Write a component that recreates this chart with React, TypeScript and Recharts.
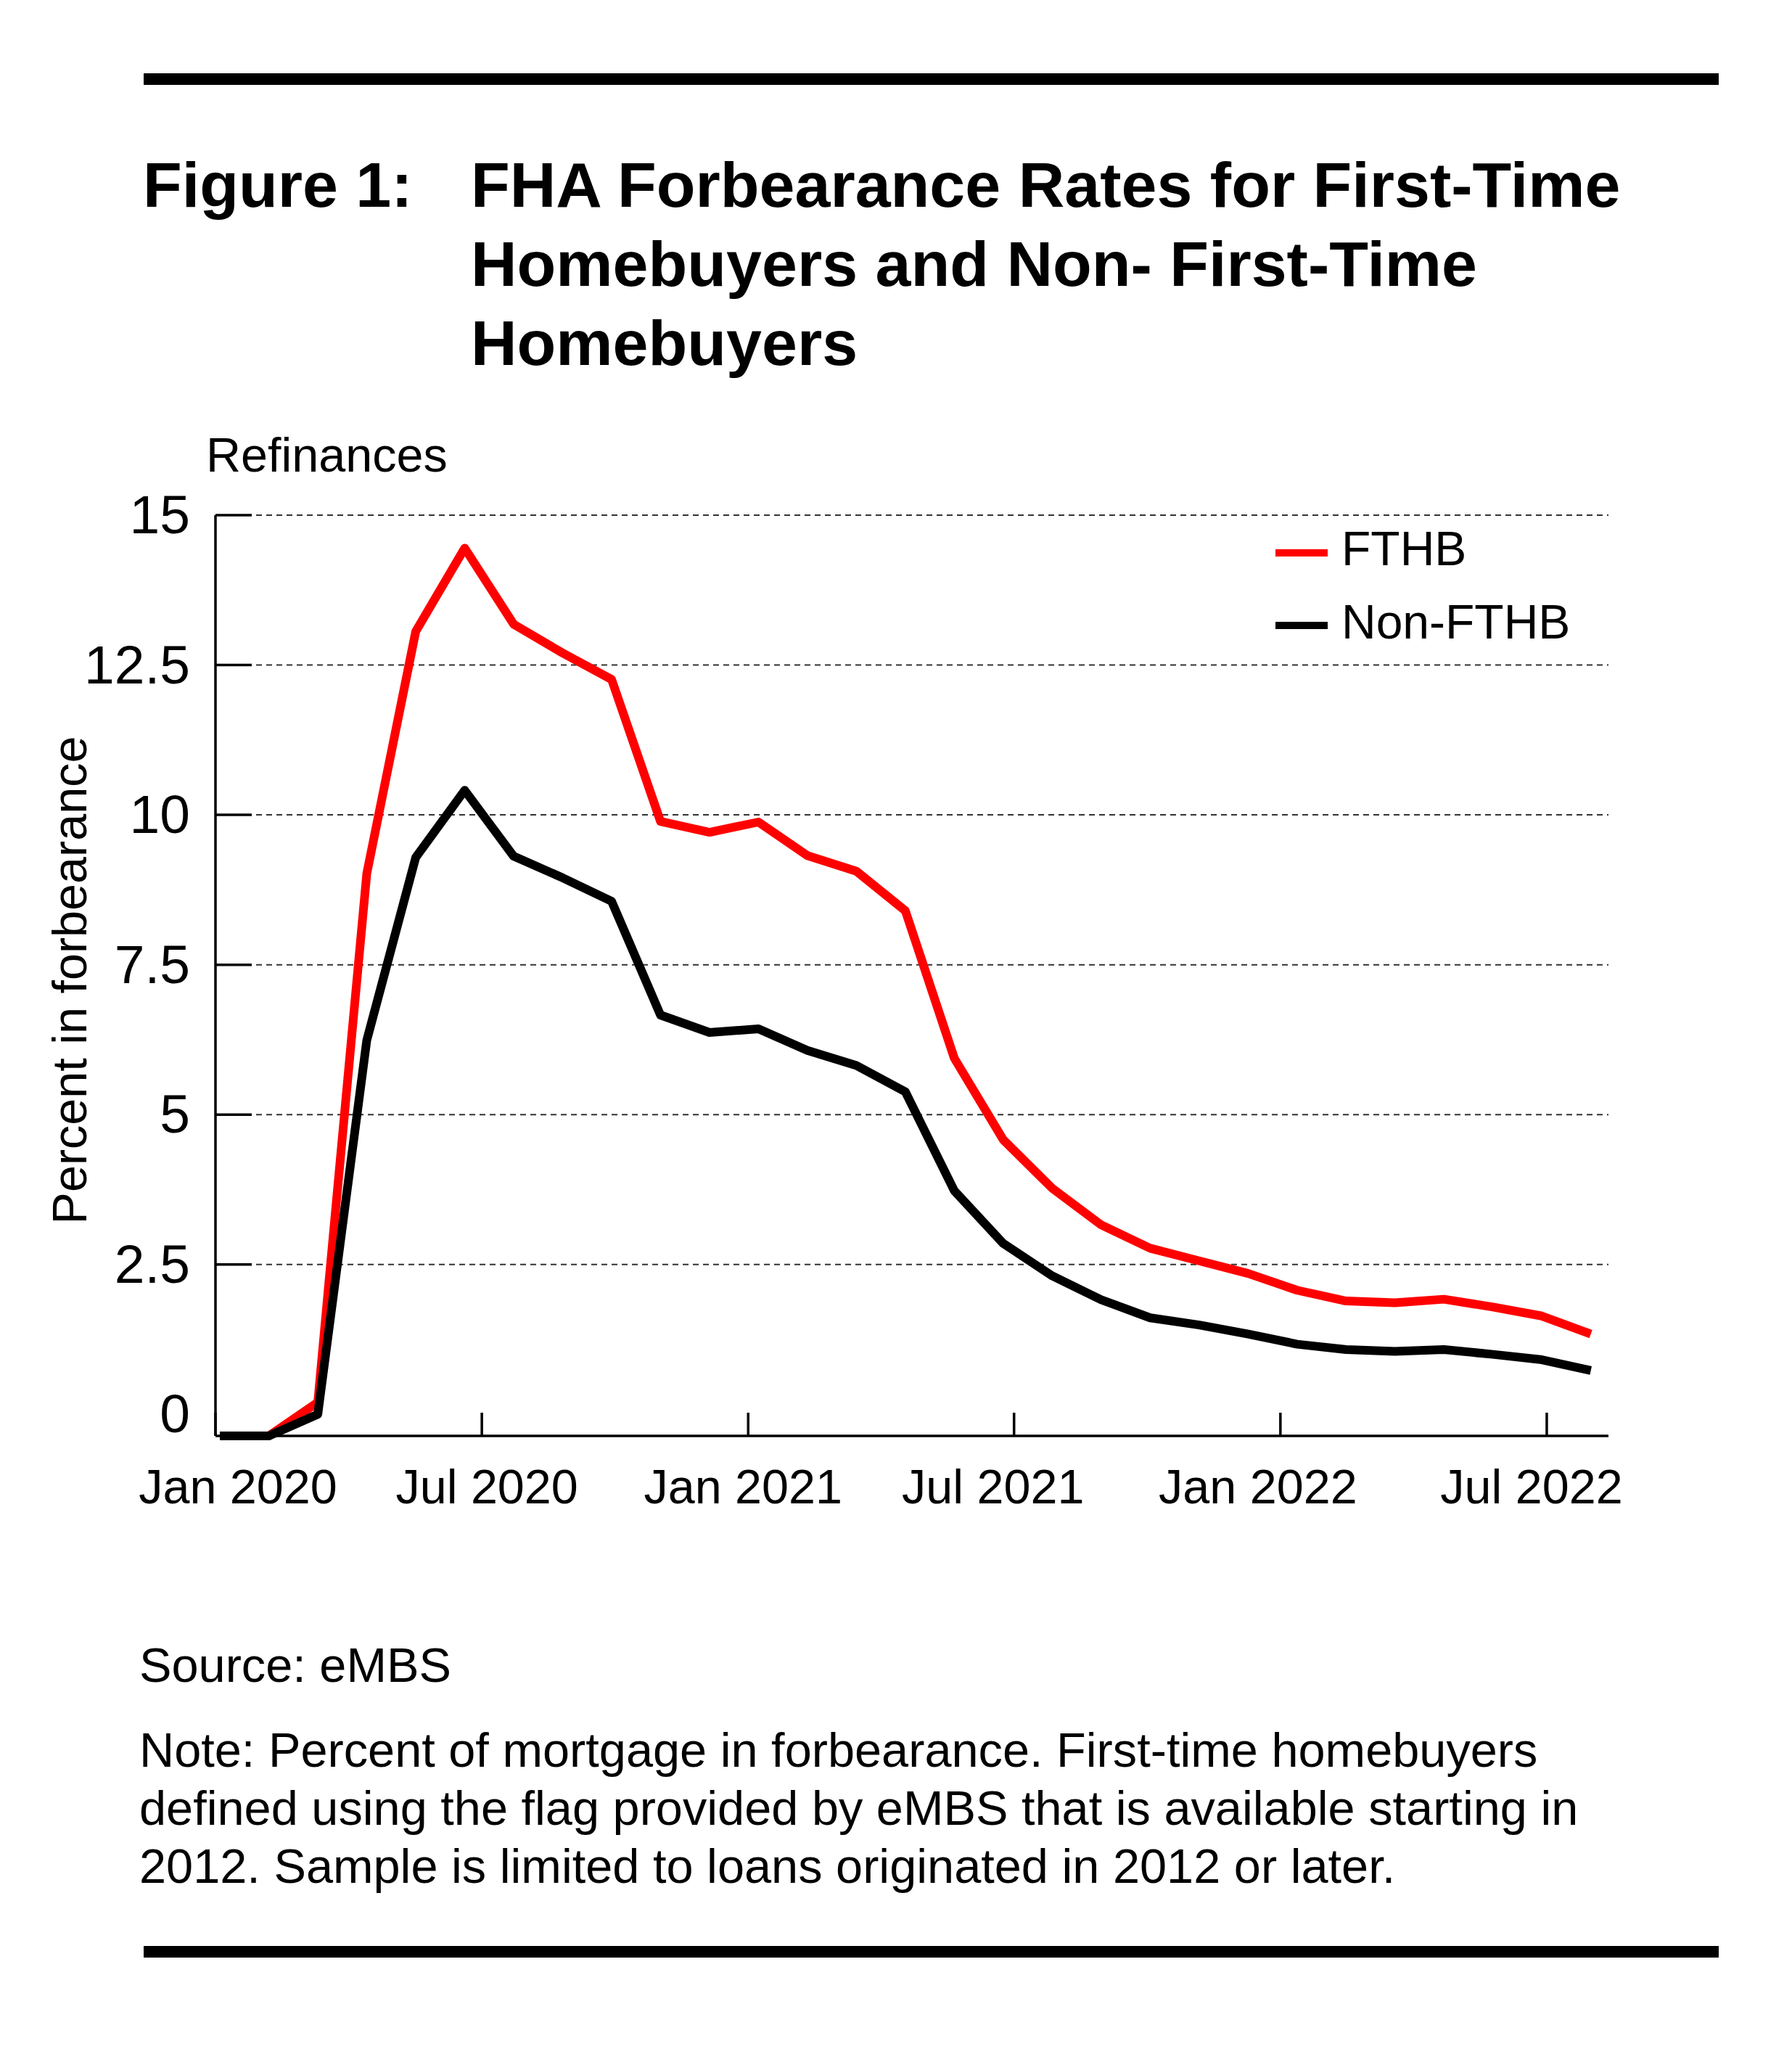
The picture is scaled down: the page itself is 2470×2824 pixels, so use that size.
import React from "react";
import { LineChart, Line, XAxis, YAxis, CartesianGrid, Legend } from "recharts";

const FONT = '"Liberation Sans", Arial, Helvetica, sans-serif';

// observation index (one point per period, first = Jan 2020)
const obs = [
  0, 1, 2, 3, 4, 5, 6, 7, 8, 9, 10, 11, 12, 13, 14, 15, 16, 17, 18, 19, 20,
  21, 22, 23, 24, 25, 26, 27, 28,
];

// percent in forbearance
const fthb = [
  -0.36, -0.36, 0.2, 9.02, 13.06, 14.45, 13.18, 12.7, 12.26, 9.89, 9.71, 9.88,
  9.32, 9.06, 8.4, 5.94, 4.58, 3.77, 3.16, 2.77, 2.56, 2.35, 2.07, 1.89, 1.86,
  1.92, 1.79, 1.64, 1.34,
];
const nonFthb = [
  -0.36, -0.36, 0.0, 6.24, 9.29, 10.41, 9.31, 8.95, 8.56, 6.66, 6.37, 6.43,
  6.07, 5.82, 5.38, 3.73, 2.85, 2.31, 1.91, 1.61, 1.49, 1.34, 1.17, 1.08, 1.05,
  1.08, 1.0, 0.91, 0.73,
];

const tickPos = [-0.09, 5.35, 10.79, 16.22, 21.66, 27.1];
const tickLabels = ["Jan 2020", "Jul 2020", "Jan 2021", "Jul 2021", "Jan 2022", "Jul 2022"];
const labelShift = [31, 7, -7, -29, -31, -21];

const yTicks = [0, 2.5, 5, 7.5, 10, 12.5, 15];
const gridValues = [2.5, 5, 7.5, 10, 12.5, 15];

const titleLines = [
  "FHA Forbearance Rates for First-Time",
  "Homebuyers and Non- First-Time",
  "Homebuyers",
];
const noteLines = [
  "Note: Percent of mortgage in forbearance. First-time homebuyers",
  "defined using the flag provided by eMBS that is available starting in",
  "2012. Sample is limited to loans originated in 2012 or later.",
];

const data = obs.map((i, k) => ({ i, fthb: fthb[k], nonFthb: nonFthb[k] }));

const XTick = (props: any) => {
  const { x, y, payload } = props;
  const k = tickPos.indexOf(payload.value);
  return (
    <g>
      <line x1={x} x2={x} y1={y} y2={y - 32} stroke="#000" strokeWidth={3.5} />
      <text
        x={x + (labelShift[k] || 0)}
        y={y + 93}
        textAnchor="middle"
        fontSize={66.5}
        fontFamily={FONT}
        fill="#000"
      >
        {tickLabels[k]}
      </text>
    </g>
  );
};

const YTick = (props: any) => {
  const { x, y, payload } = props;
  const v = payload.value;
  return (
    <g>
      {v > 0 && <line x1={x} x2={x + 50} y1={y} y2={y} stroke="#000" strokeWidth={3.5} />}
      <text x={x - 35} y={y + 25} textAnchor="end" fontSize={75} fontFamily={FONT} fill="#000">
        {String(v)}
      </text>
    </g>
  );
};

const renderLegend = (props: any) => {
  const items = props.payload || [];
  return (
    <svg width={450} height={200}>
      {items.map((it: any, k: number) => (
        <g key={it.value}>
          <line x1={0} x2={72} y1={42 + 100 * k} y2={42 + 100 * k} stroke={it.color} strokeWidth={10} />
          <text x={91} y={59 + 101 * k} fontSize={66} fontFamily={FONT} fill="#000">
            {it.value}
          </text>
        </g>
      ))}
    </svg>
  );
};

const App = () => {
  return (
    <div
      style={{
        position: "absolute",
        left: 0,
        top: 0,
        width: 2470,
        height: 2824,
        background: "#fff",
      }}
    >
      <div style={{ position: "absolute", left: 0, top: 0 }}>
        <LineChart
          width={2470}
          height={2824}
          data={data}
          margin={{ top: 710, right: 253, bottom: 695, left: 47 }}
        >
          <CartesianGrid
            vertical={false}
            horizontalValues={gridValues}
            stroke="#333"
            strokeWidth={2}
            strokeDasharray="8 6"
          />
          <XAxis
            dataKey="i"
            type="number"
            domain={[-0.09, 28.36]}
            ticks={tickPos}
            interval={0}
            height={150}
            tickSize={0}
            tickMargin={0}
            tickLine={false}
            axisLine={{ stroke: "#000", strokeWidth: 3.5 }}
            tick={<XTick />}
          />
          <YAxis
            type="number"
            domain={[-0.36, 15]}
            ticks={yTicks}
            interval={0}
            width={250}
            tickSize={0}
            tickMargin={0}
            tickLine={false}
            axisLine={{ stroke: "#000", strokeWidth: 3.5 }}
            tick={<YTick />}
          />
          <Legend
            layout="horizontal"
            align="center"
            verticalAlign="middle"
            content={renderLegend}
            wrapperStyle={{ left: 1758, top: 720, width: 450, height: 200 }}
          />
          <Line
            type="linear"
            dataKey="fthb"
            name="FTHB"
            stroke="#ff0000"
            strokeWidth={12}
            strokeLinejoin="round"
            dot={false}
            activeDot={false}
            isAnimationActive={false}
          />
          <Line
            type="linear"
            dataKey="nonFthb"
            name="Non-FTHB"
            stroke="#000000"
            strokeWidth={12}
            strokeLinejoin="round"
            dot={false}
            activeDot={false}
            isAnimationActive={false}
          />
        </LineChart>
      </div>
      <svg
        width={2470}
        height={2824}
        style={{ position: "absolute", left: 0, top: 0, pointerEvents: "none" }}
      >
        <rect x={198} y={101} width={2171} height={16} fill="#000" />
        <text x={197} y={285} fontSize={88} fontWeight="bold" fontFamily={FONT} fill="#000">
          Figure 1:
        </text>
        {titleLines.map((t, k) => (
          <text
            key={t}
            x={649}
            y={285 + 109 * k}
            fontSize={88}
            fontWeight="bold"
            fontFamily={FONT}
            fill="#000"
          >
            {t}
          </text>
        ))}
        <text x={284} y={650} fontSize={66.5} fontFamily={FONT} fill="#000">
          Refinances
        </text>
        <text
          x={119}
          y={1351}
          transform="rotate(-90 119 1351)"
          textAnchor="middle"
          fontSize={66.5}
          fontFamily={FONT}
          fill="#000"
        >
          Percent in forbearance
        </text>
        <text x={192} y={2318} fontSize={66.7} fontFamily={FONT} fill="#000">
          Source: eMBS
        </text>
        {noteLines.map((t, k) => (
          <text key={t} x={192} y={2435 + 80 * k} fontSize={66.7} fontFamily={FONT} fill="#000">
            {t}
          </text>
        ))}
        <rect x={198} y={2682} width={2171} height={16} fill="#000" />
      </svg>
    </div>
  );
};

export default App;
